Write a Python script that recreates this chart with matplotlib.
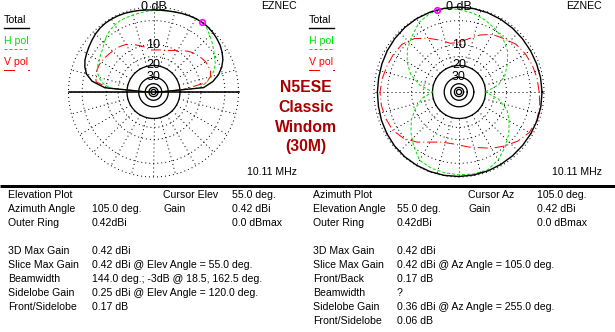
import numpy as np
import matplotlib
matplotlib.use("Agg")
import matplotlib.pyplot as plt

plt.rcParams['font.family'] = ['Liberation Sans', 'DejaVu Sans']

# elevation slice at azimuth 105 deg, dB relative to max (0.42 dBi)
elev_ang = list(range(0, 181, 5))
elev_total = [-45, -9.0, -5.9, -4.0, -2.7, -1.8, -1.2, -0.75, -0.45, -0.2, -0.05, 0.0,
              -0.05, -0.15, -0.3, -0.45, -0.55, -0.6, -0.6, -0.55, -0.45, -0.35, -0.25,
              -0.19, -0.17, -0.2, -0.35, -0.6, -0.95, -1.3, -1.65, -2.0, -2.6, -3.5,
              -5.3, -9.5, -45]
elev_hpol = [-45, -10.5, -8.0, -6.0, -4.7, -3.8, -3.2, -2.5, -1.8, -1.1, -0.4, 0.0,
             -0.1, -0.2, -0.3, -0.4, -0.5, -0.6, -0.7, -0.85, -1.0, -1.1, -1.2, -1.3,
             -1.6, -2.0, -2.6, -3.4, -4.2, -4.7, -5.2, -5.5, -6.0, -7.0, -8.5, -11.6, -45]
elev_vpol = [-45, -18, -8.0, -6.3, -5.8, -5.8, -5.9, -6.3, -6.8, -7.3, -8.0, -9.0,
             -9.8, -10.6, -11.2, -11.6, -11.8, -12.0, -12.1, -12.0, -10.8, -9.9, -9.1,
             -8.3, -7.5, -7.1, -6.8, -6.6, -6.4, -6.1, -5.8, -5.8, -5.8, -6.0, -6.5,
             -11, -45]

# azimuth slice at elevation 55 deg
az_ang = list(range(0, 361, 10))
az_total = [-0.4, -0.45, -0.5, -0.5, -0.45, -0.35, -0.25, -0.15, -0.07, -0.02, -0.01,
            -0.01, -0.05, -0.15, -0.3, -0.45, -0.6, -0.7, -0.7, -0.65, -0.5, -0.35,
            -0.2, -0.1, -0.07, -0.06, -0.07, -0.1, -0.15, -0.2, -0.28, -0.35, -0.4,
            -0.4, -0.38, -0.38, -0.4]
az_hpol = [-20, -13, -9.5, -7.2, -5.0, -3.6, -2.7, -1.8, -1.0, -0.5, -0.1, -0.2, -1.0,
           -2.6, -4.0, -6.0, -8.6, -13, -20, -14, -10.5, -7.5, -5.2, -3.2, -1.3, -0.8,
           -0.6, -0.45, -0.35, -0.4, -1.4, -2.9, -4.6, -6.6, -8.8, -13, -20]
az_vpol = [-1.0, -1.2, -1.45, -1.8, -2.3, -3.4, -4.2, -5.8, -7.8, -9.2, -9.3, -7.4,
           -5.4, -3.4, -2.3, -2.0, -1.8, -1.5, -1.25, -1.3, -1.5, -1.8, -2.8, -4.5,
           -6.6, -8.0, -8.4, -8.1, -7.2, -6.2, -4.6, -3.2, -1.8, -0.8, -0.45, -0.6, -1.0]

cursor_elev = 55.0
cursor_az = 105.0

left_info = [
    ("Elevation Plot", None, "Cursor Elev", "55.0 deg."),
    ("Azimuth Angle", "105.0 deg.", "Gain", "0.42 dBi"),
    ("Outer Ring", "0.42dBi", None, "0.0 dBmax"),
    None,
    ("3D Max Gain", "0.42 dBi", None, None),
    ("Slice Max Gain", "0.42 dBi @ Elev Angle = 55.0 deg.", None, None),
    ("Beamwidth", "144.0 deg.; -3dB @ 18.5, 162.5 deg.", None, None),
    ("Sidelobe Gain", "0.25 dBi @ Elev Angle = 120.0 deg.", None, None),
    ("Front/Sidelobe", "0.17 dB", None, None),
]
right_info = [
    ("Azimuth Plot", None, "Cursor Az", "105.0 deg."),
    ("Elevation Angle", "55.0 deg.", "Gain", "0.42 dBi"),
    ("Outer Ring", "0.42dBi", None, "0.0 dBmax"),
    None,
    ("3D Max Gain", "0.42 dBi", None, None),
    ("Slice Max Gain", "0.42 dBi @ Az Angle = 105.0 deg.", None, None),
    ("Front/Back", "0.17 dB", None, None),
    ("Beamwidth", "?", None, None),
    ("Sidelobe Gain", "0.36 dBi @ Az Angle = 255.0 deg.", None, None),
    ("Front/Sidelobe", "0.06 dB", None, None),
]

GREEN = '#00e000'
RED = '#ff0000'
TITLE = '#a80000'
R = 85.0
PX = 0.72  # one pixel in points at 100 dpi


def arrl_r(db):
    # ARRL log scale: radius shrinks by 0.89 every 2 dB
    return R * 0.89 ** (-np.asarray(db, dtype=float) / 2.0)


def to_xy(cx, cy, ang, db):
    r = arrl_r(db)
    t = np.radians(ang)
    return cx + r * np.cos(t), cy - r * np.sin(t)


def grid(ax, cx, cy):
    th = np.linspace(0, 2 * np.pi, 400)
    for db in (0, -3, -10, -15):
        r = arrl_r(db)
        ax.plot(cx + r * np.cos(th), cy - r * np.sin(th), color='k',
                lw=PX, ls=(0, (1, 3)))
    for db in (-20, -30, -40, -50, -60):
        r = arrl_r(db)
        ax.plot(cx + r * np.cos(th), cy - r * np.sin(th), color='k', lw=1.3 * PX)
    r0, r1 = arrl_r(-20), R
    for a in np.radians(np.arange(0, 360, 15)):
        ax.plot([cx + r0 * np.cos(a), cx + r1 * np.cos(a)],
                [cy - r0 * np.sin(a), cy - r1 * np.sin(a)],
                color='k', lw=PX, ls=(0, (1, 3)))
    ax.text(cx, cy - R, "0 dB", ha='center', va='center', fontsize=9)
    for db in (-10, -20, -30):
        ax.text(cx, cy - arrl_r(db), str(-db), ha='center', va='center', fontsize=9)


def patterns(ax, cx, cy, ang, tot, hp, vp, cur):
    ax.plot(*to_xy(cx, cy, ang, vp), color=RED, lw=PX, ls=(0, (10, 3, 1, 3)))
    ax.plot(*to_xy(cx, cy, ang, hp), color=GREEN, lw=PX, ls=(0, (3, 2)))
    ax.plot(*to_xy(cx, cy, ang, tot), color='k', lw=1.4 * PX)
    mx, my = to_xy(cx, cy, [cur], [0.0])
    ax.plot(mx, my, 'o', ms=4, mfc='none', mec='#ff00ff', mew=1.2)


def legend(ax, x0, x1):
    ax.text(x0, 20, "Total", color='k', fontsize=7.6, va='center')
    ax.plot([x0, x0 + 25], [28, 28], color='k', lw=1.4 * PX)
    ax.text(x0, 41, "H pol", color=GREEN, fontsize=7.6, va='center')
    ax.plot([x0, x0 + 25], [49, 49], color=GREEN, lw=PX, ls=(0, (3, 2)))
    ax.text(x0, 62, "V pol", color=RED, fontsize=7.6, va='center')
    ax.plot([x0, x0 + 10], [70, 70], color=RED, lw=PX)
    ax.plot([x0 + 24, x0 + 25], [70, 70], color=RED, lw=PX)
    ax.text(x1, 6, "EZNEC", fontsize=7.6, ha='right', va='center')
    ax.text(x1, 172, "10.11 MHz", fontsize=7.6, ha='right', va='center')


def info(ax, rows, cols):
    y = 195.3
    for row in rows:
        if row is not None:
            for s, x in zip(row, cols):
                if s:
                    ax.text(x, y, s, fontsize=7.6, va='center', ha='left')
        y += 14.0


fig = plt.figure(figsize=(6.15, 3.32), dpi=100)
ax = fig.add_axes([0, 0, 1, 1])
ax.set_xlim(0, 615)
ax.set_ylim(332, 0)
ax.axis('off')

# elevation plot
ecx, ecy = 153.5, 92.0
grid(ax, ecx, ecy)
ax.plot([ecx - R, ecx + R], [ecy, ecy], color='k', lw=1.6 * PX)
patterns(ax, ecx, ecy, elev_ang, elev_total, elev_hpol, elev_vpol, cursor_elev)
legend(ax, 4, 297)

# azimuth plot
acx, acy = 459.0, 92.0
grid(ax, acx, acy)
patterns(ax, acx, acy, az_ang, az_total, az_hpol, az_vpol, cursor_az)
legend(ax, 309, 602)

for txt, y in zip(["N5ESE", "Classic", "Windom", "(30M)"], [88, 108, 127.5, 147]):
    ax.text(306, y, txt, color=TITLE, fontsize=11.3, fontweight='bold',
            ha='center', va='center')

ax.plot([0, 615], [185.5, 185.5], color='k', lw=3 * PX, solid_capstyle='butt')

info(ax, left_info, [8.3, 91.7, 163.3, 232.3])
info(ax, right_info, [313.3, 396.7, 468.3, 537.3])

fig.savefig("out.png", dpi=100)
